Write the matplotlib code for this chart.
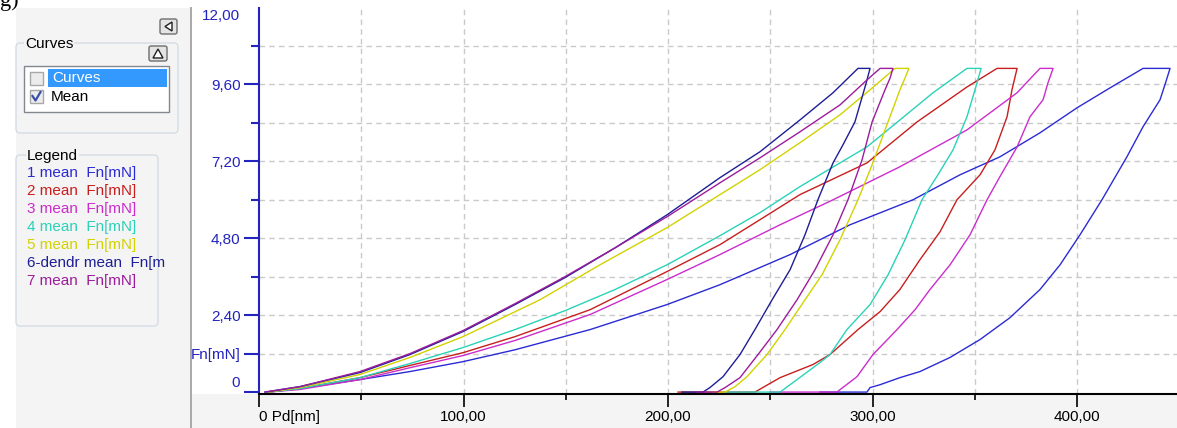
import matplotlib
matplotlib.use("Agg")
import matplotlib.pyplot as plt
from matplotlib.patches import Rectangle, FancyBboxPatch, Polygon

plt.rcParams['font.family'] = ['Liberation Sans', 'DejaVu Sans']

# ---- data: depth Pd [nm], load Fn [mN] ----
# loading branches
load_h1 = [4.4, 20.0, 49.4, 73.8, 99.8, 125.2, 161.9, 199.5, 225.4, 259.7, 289.0, 319.8, 342.8, 362.3, 381.9, 400.0, 416.1, 432.3]
load_f1 = [0, 0.11, 0.39, 0.64, 0.95, 1.32, 1.95, 2.73, 3.35, 4.29, 5.22, 6.00, 6.78, 7.34, 8.09, 8.87, 9.49, 10.1]
load_h2 = [4.4, 20.0, 49.4, 73.8, 99.8, 125.2, 161.9, 199.5, 225.4, 245.0, 264.5, 297.3, 321.8, 346.2, 360.9]
load_f2 = [0, 0.11, 0.45, 0.83, 1.23, 1.73, 2.57, 3.76, 4.60, 5.38, 6.16, 7.15, 8.43, 9.52, 10.1]
load_h3 = [4.4, 20.0, 49.4, 73.8, 99.8, 125.2, 161.9, 199.5, 225.4, 254.8, 280.7, 313.4, 346.2, 370.7, 381.9]
load_f3 = [0, 0.08, 0.39, 0.76, 1.14, 1.61, 2.42, 3.51, 4.29, 5.22, 6.00, 7.03, 8.18, 9.34, 10.1]
load_h4 = [4.4, 20.0, 49.4, 73.8, 99.8, 125.2, 149.6, 174.1, 199.5, 225.4, 245.0, 264.5, 297.3, 313.4, 329.6, 346.2]
load_f4 = [0, 0.11, 0.45, 0.89, 1.39, 1.95, 2.54, 3.20, 3.97, 4.88, 5.60, 6.41, 7.65, 8.49, 9.34, 10.1]
load_h5 = [4.4, 20.0, 49.4, 73.8, 99.8, 137.4, 166.7, 199.5, 225.4, 245.0, 264.5, 284.1, 298.8, 311.0]
load_f5 = [0, 0.14, 0.55, 1.08, 1.73, 2.88, 3.97, 5.13, 6.16, 6.94, 7.78, 8.65, 9.43, 10.1]
load_h6 = [2.9, 20.0, 49.4, 73.8, 99.8, 125.2, 149.6, 174.1, 199.5, 225.4, 245.0, 264.5, 280.7, 292.9]
load_f6 = [0, 0.17, 0.61, 1.17, 1.89, 2.73, 3.57, 4.50, 5.53, 6.69, 7.50, 8.49, 9.34, 10.1]
load_h7 = [2.9, 20.0, 49.4, 73.8, 99.8, 125.2, 149.6, 174.1, 199.5, 225.4, 245.0, 264.5, 284.1, 297.3, 303.7]
load_f7 = [0, 0.17, 0.64, 1.20, 1.92, 2.76, 3.60, 4.50, 5.47, 6.53, 7.31, 8.12, 8.96, 9.74, 10.1]

# unloading branches (start at max depth)
unload_h1 = [445.5, 443.0, 440.6, 432.3, 424.4, 412.2, 401.5, 391.7, 381.9, 367.2, 352.6, 337.9, 323.2, 313.4, 303.7, 298.8, 297.3]
unload_f1 = [10.1, 9.59, 9.12, 8.28, 7.34, 6.00, 4.91, 3.97, 3.20, 2.32, 1.64, 1.08, 0.64, 0.45, 0.23, 0.14, 0]
unload_h2 = [370.7, 368.2, 365.8, 359.9, 352.6, 341.3, 333.0, 323.2, 313.4, 303.7, 292.9, 279.2, 270.9, 254.8, 242.5]
unload_f2 = [10.1, 9.43, 8.59, 7.56, 6.78, 6.00, 5.00, 4.13, 3.20, 2.51, 1.95, 1.17, 0.86, 0.45, 0]
unload_h3 = [388.3, 385.8, 383.4, 377.0, 370.7, 362.3, 356.0, 347.7, 337.9, 328.1, 320.8, 312.0, 300.2, 292.4, 282.6]
unload_f3 = [10.1, 9.65, 9.12, 8.59, 7.65, 6.72, 6.00, 4.91, 3.97, 3.20, 2.57, 1.95, 1.17, 0.48, 0]
unload_h4 = [353.1, 350.1, 346.2, 339.4, 332.0, 324.2, 315.9, 307.6, 298.8, 287.5, 279.2, 274.3, 263.1, 254.8]
unload_f4 = [10.1, 9.43, 8.59, 7.56, 6.78, 6.00, 4.75, 3.66, 2.73, 1.95, 1.17, 0.92, 0.39, 0]
unload_h5 = [317.8, 315.9, 313.4, 307.6, 299.8, 292.9, 284.1, 275.3, 267.0, 257.2, 248.4, 238.6, 232.8, 227.9]
unload_f5 = [10.1, 9.80, 9.43, 8.43, 7.09, 6.00, 4.75, 3.66, 2.88, 1.95, 1.17, 0.48, 0.17, 0]
unload_h6 = [298.8, 296.8, 291.4, 285.6, 280.7, 273.3, 267.0, 259.7, 250.9, 242.5, 235.2, 226.9, 220.5, 217.1]
unload_f6 = [10.1, 9.62, 8.43, 7.72, 7.15, 6.00, 4.91, 3.82, 2.88, 1.95, 1.17, 0.48, 0.14, 0]
unload_h7 = [310.0, 308.6, 306.1, 299.8, 294.9, 288.0, 280.7, 271.9, 263.1, 253.3, 244.0, 235.2, 227.9, 224.0]
unload_f7 = [10.1, 9.80, 9.43, 8.43, 7.25, 6.00, 4.91, 3.82, 2.88, 1.95, 1.17, 0.45, 0.14, 0]

# where the zero-load tail of each mean curve ends
tail_end = [274.3, 204.9, 249.9, 227.9, 221.5, 206.8, 214.2]

names = ["1 mean  Fn[mN]", "2 mean  Fn[mN]", "3 mean  Fn[mN]", "4 mean  Fn[mN]",
         "5 mean  Fn[mN]", "6-dendr mean  Fn[m", "7 mean  Fn[mN]"]
colors = ['#2b2bd4', '#c81e1e', '#cc2ccc', '#2ad2b8', '#d2d200', '#1e1e96', '#9c1c9c']

x_ticks = [0, 100, 200, 300, 400]
x_labels = ['0 Pd[nm]', '100,00', '200,00', '300,00', '400,00']
y_ticks = [1.2, 2.4, 4.8, 7.2, 9.6]
y_labels = ['Fn[mN]', '2,40', '4,80', '7,20', '9,60']

loads = [(load_h1, load_f1), (load_h2, load_f2), (load_h3, load_f3), (load_h4, load_f4),
         (load_h5, load_f5), (load_h6, load_f6), (load_h7, load_f7)]
unloads = [(unload_h1, unload_f1), (unload_h2, unload_f2), (unload_h3, unload_f3), (unload_h4, unload_f4),
           (unload_h5, unload_f5), (unload_h6, unload_f6), (unload_h7, unload_f7)]

W, H = 1177, 428
FS = 11
fig = plt.figure(figsize=(W / 100, H / 100), dpi=100)
fig.patch.set_facecolor('white')

# background / side panel, drawn in pixel units
bg = fig.add_axes([0, 0, 1, 1], zorder=0)
bg.set_xlim(0, W)
bg.set_ylim(H, 0)
bg.axis('off')
panel = '#f4f4f4'
bg.add_patch(Rectangle((16, 8), 174, H - 8, fc=panel, ec='none'))
bg.add_patch(Rectangle((190, 394), W - 190, H - 394, fc=panel, ec='none'))
bg.plot([190.5, 190.5], [8, H], color='#a8a8a8', lw=1.4)
bg.text(0, 6, 'g)', fontsize=16, family='Liberation Serif', va='baseline', ha='left')


def button(x, y, w, h, tri):
    bg.add_patch(FancyBboxPatch((x, y), w, h, boxstyle="round,pad=0,rounding_size=2",
                                fc='#e4e4e4', ec='#6e6e6e', lw=1))
    bg.add_patch(Polygon(tri, closed=True, fc='white', ec='#202020', lw=1))


button(160, 19, 17, 15, [(172, 22), (172, 31), (165, 26.5)])
button(149, 46, 18, 15, [(158, 49), (163, 58), (153, 58)])

# "Curves" group
bg.add_patch(FancyBboxPatch((16, 43), 162, 90, boxstyle="round,pad=0,rounding_size=4",
                            fc='none', ec='#d3dde4', lw=1))
bg.text(25, 44, 'Curves', fontsize=FS, va='center', ha='left',
        bbox=dict(fc=panel, ec='none', pad=0.5))
bg.add_patch(Rectangle((24, 66), 145, 46, fc='white', ec='#828790', lw=1))
bg.add_patch(Rectangle((48, 69), 119, 18, fc='#3399ff', ec='none'))
bg.add_patch(Rectangle((30, 72), 13, 13, fc='#ececec', ec='#a8a8a8', lw=1))
bg.add_patch(Rectangle((30, 90), 13, 13, fc='#ececec', ec='#a8a8a8', lw=1))
bg.plot([32.5, 35.5, 40.5], [96, 100.5, 92], color='#3a4fa8', lw=1.6)
bg.text(52, 78, 'Curves', fontsize=FS, color='white', va='center', ha='left')
bg.text(51, 97, 'Mean', fontsize=FS, color='black', va='center', ha='left')

# "Legend" group
bg.add_patch(FancyBboxPatch((16, 155), 142, 171, boxstyle="round,pad=0,rounding_size=4",
                            fc='none', ec='#d3dde4', lw=1))
bg.text(27, 156, 'Legend', fontsize=FS, va='center', ha='left',
        bbox=dict(fc=panel, ec='none', pad=0.5))
for i, (nm, c) in enumerate(zip(names, colors)):
    bg.text(27, 173 + 18 * i, nm, fontsize=FS, color=c, va='center', ha='left')

# ---- main chart ----
px_x0, px_y0, px_top = 258.5, 394, 7.5
ax = fig.add_axes([px_x0 / W, (H - px_y0) / H, (W - px_x0) / W, (px_y0 - px_top) / H], zorder=1)
ax.set_facecolor('none')
ax.set_xlim(-0.25, 448.9)
ax.set_ylim(-0.06, 12)

for s in ['top', 'right']:
    ax.spines[s].set_visible(False)
ax.spines['left'].set_color('#2323c0')
ax.spines['left'].set_linewidth(1.5)
ax.spines['bottom'].set_color('black')
ax.spines['bottom'].set_linewidth(1.5)

grid_y = [1.2, 2.4, 3.6, 4.8, 6.0, 7.2, 8.4, 9.6, 10.8]
grid_x = [50, 100, 150, 200, 250, 300, 350, 400]
for gy in grid_y:
    ax.axhline(gy, color='#cacaca', lw=1, ls=(0, (4, 3)), zorder=0)
for gx in grid_x:
    ax.axvline(gx, color='#cacaca', lw=1, ls=(0, (4, 3)), zorder=0)

for (lh, lf), (uh, uf), te, c in zip(loads, unloads, tail_end, colors):
    ax.plot(lh + uh + [te], lf + uf + [0], color=c, lw=1.0, zorder=2)

ax.set_xticks(x_ticks)
ax.set_xticklabels(x_labels)
ax.set_xticks([50, 150, 250, 350], minor=True)
ax.tick_params(axis='x', which='major', length=9.4, width=1.2, color='black', pad=2.2,
               labelsize=FS, labelcolor='black')
ax.tick_params(axis='x', which='minor', length=4.3, width=1.2, color='black')
ax.get_xticklabels()[0].set_ha('left')

ax.set_yticks([0] + y_ticks)
ax.set_yticklabels([''] + y_labels)
ax.set_yticks([3.6, 6.0, 8.4, 10.8], minor=True)
ax.tick_params(axis='y', which='major', length=10.8, width=1.5, color='#2323c0', pad=2.2,
               labelsize=FS, labelcolor='#2323c0')
ax.tick_params(axis='y', which='minor', length=5.8, width=1.5, color='#2323c0')

ax.annotate('0', xy=(0, 0), xycoords=('axes fraction', 'data'), xytext=(-13.5, 6.5),
            textcoords='offset points', ha='right', va='center', fontsize=FS, color='#2323c0')
ax.annotate('12,00', xy=(0, 12), xycoords=('axes fraction', 'data'), xytext=(-13.5, -6.2),
            textcoords='offset points', ha='right', va='center', fontsize=FS, color='#2323c0')

fig.savefig('out.png', dpi=100)
